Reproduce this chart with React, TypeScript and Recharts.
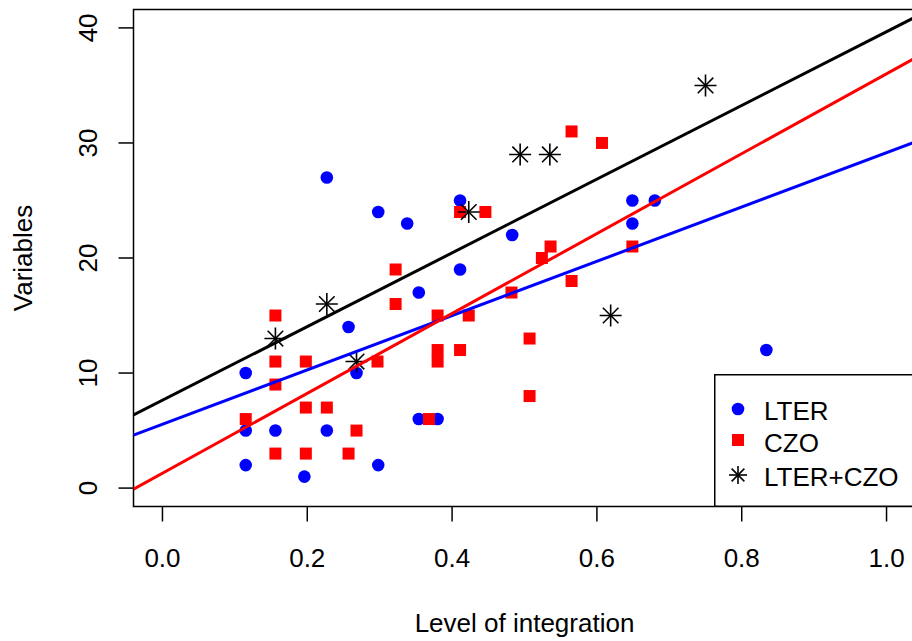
import { ScatterChart, Scatter, XAxis, YAxis, ReferenceArea, Label } from 'recharts'

// LTER sites (blue dots)
const lterX = [0.115, 0.115, 0.115, 0.156, 0.196, 0.227, 0.227, 0.257, 0.268, 0.298, 0.298, 0.338, 0.354, 0.354, 0.38, 0.411, 0.411, 0.483, 0.649, 0.649, 0.68, 0.834]
const lterY = [10, 5, 2, 5, 1, 27, 5, 14, 10, 24, 2, 23, 17, 6, 6, 25, 19, 22, 25, 23, 25, 12]

// CZO sites (red squares)
const czoX = [0.115, 0.156, 0.156, 0.156, 0.156, 0.198, 0.198, 0.198, 0.227, 0.257, 0.268, 0.297, 0.322, 0.322, 0.368, 0.38, 0.38, 0.38, 0.411, 0.411, 0.423, 0.446, 0.482, 0.507, 0.507, 0.524, 0.536, 0.565, 0.565, 0.607, 0.649]
const czoY = [6, 15, 11, 9, 3, 11, 7, 3, 7, 3, 5, 11, 19, 16, 6, 15, 12, 11, 24, 12, 15, 24, 17, 13, 8, 20, 21, 18, 31, 30, 21]

// LTER+CZO sites (stars)
const bothX = [0.156, 0.227, 0.268, 0.423, 0.494, 0.535, 0.619, 0.75]
const bothY = [13, 16, 11, 24, 29, 29, 15, 35]

// fitted lines, read at the two edges of the plot box
const fitX = [-0.04, 1.04]
const lterFit = [4.6, 30.1]
const czoFit = [-0.1, 37.4]
const bothFit = [6.35, 40.95]

const xTicks = [0, 0.2, 0.4, 0.6, 0.8, 1.0]
const yTicks = [0, 10, 20, 30, 40]
const xDomain = [-0.04, 1.04]
const yDomain = [-1.6, 41.6]

const BLUE = '#0000ff'
const RED = '#ff0000'
const FONT = '"Liberation Sans", Arial, sans-serif'
const FS = 26

const pts = (xs: number[], ys: number[]) => xs.map((x, i) => ({ x, y: ys[i] }))

const Dot = (p: any) => <circle cx={p.cx} cy={p.cy} r={6.3} fill={BLUE} />
const Square = (p: any) => <rect x={p.cx - 6} y={p.cy - 6} width={12} height={12} fill={RED} />

function Star({ cx, cy, r = 11 }: { cx: number; cy: number; r?: number }) {
  const d = r / Math.SQRT2
  return (
    <g stroke="#000" strokeWidth={1.6}>
      <line x1={cx - r} y1={cy} x2={cx + r} y2={cy} />
      <line x1={cx} y1={cy - r} x2={cx} y2={cy + r} />
      <line x1={cx - d} y1={cy - d} x2={cx + d} y2={cy + d} />
      <line x1={cx - d} y1={cy + d} x2={cx + d} y2={cy - d} />
    </g>
  )
}

const Nothing = () => <g />

const XTick = ({ x, y, payload }: any) => (
  <text x={x} y={y + 43} textAnchor="middle" fontSize={FS} fontFamily={FONT} fill="#000">
    {Number(payload.value).toFixed(1)}
  </text>
)

const YTick = ({ x, y, payload }: any) => (
  <text transform={`translate(${x - 20},${y}) rotate(-90)`} textAnchor="middle" fontSize={FS} fontFamily={FONT} fill="#000">
    {payload.value}
  </text>
)

function LegendBox() {
  const rows = [
    { name: 'LTER', y: 34 },
    { name: 'CZO', y: 66 },
    { name: 'LTER+CZO', y: 100 },
  ]
  return (
    <svg width={220} height={140} style={{ position: 'absolute', left: 714, top: 374 }}>
      <rect x={0.75} y={0.75} width={230} height={131.5} fill="#fff" stroke="#000" strokeWidth={1.5} />
      <circle cx={24} cy={35} r={6.3} fill={BLUE} />
      <rect x={18} y={60} width={12} height={12} fill={RED} />
      <Star cx={24} cy={101} r={9} />
      {rows.map((r) => (
        <text key={r.name} x={50} y={r.y + 12} fontSize={FS} fontFamily={FONT} fill="#000">
          {r.name}
        </text>
      ))}
    </svg>
  )
}

export default function App() {
  return (
    <div style={{ position: 'absolute', left: 0, top: 0, width: 912, height: 641, overflow: 'hidden', background: '#fff' }}>
      <ScatterChart width={930} height={641} margin={{ top: 9.5, right: 14.5, bottom: 4.5, left: 3.5 }}>
        <XAxis
          type="number"
          dataKey="x"
          domain={xDomain}
          allowDataOverflow
          ticks={xTicks}
          interval={0}
          height={130}
          axisLine={false}
          tickSize={15}
          tickLine={{ stroke: '#000', strokeWidth: 1.5 }}
          tick={<XTick />}
        >
          <Label
            content={({ viewBox }: any) => (
              <text x={viewBox.x + viewBox.width / 2} y={viewBox.y + 125.5} textAnchor="middle" fontSize={FS} fontFamily={FONT} fill="#000">
                Level of integration
              </text>
            )}
          />
        </XAxis>
        <YAxis
          type="number"
          dataKey="y"
          domain={yDomain}
          allowDataOverflow
          ticks={yTicks}
          interval={0}
          width={130}
          axisLine={false}
          tickSize={15}
          tickLine={{ stroke: '#000', strokeWidth: 1.5 }}
          tick={<YTick />}
        >
          <Label
            content={({ viewBox }: any) => (
              <text transform={`translate(31.5,${viewBox.y + viewBox.height / 2}) rotate(-90)`} textAnchor="middle" fontSize={FS} fontFamily={FONT} fill="#000">
                Variables
              </text>
            )}
          />
        </YAxis>
        <ReferenceArea x1={xDomain[0]} x2={xDomain[1]} y1={yDomain[0]} y2={yDomain[1]} fill="none" stroke="#000" strokeWidth={1.5} fillOpacity={0} />
        <Scatter data={pts(lterX, lterY)} shape={Dot} isAnimationActive={false} />
        <Scatter data={pts(czoX, czoY)} shape={Square} isAnimationActive={false} />
        <Scatter data={pts(bothX, bothY)} shape={(p: any) => <Star cx={p.cx} cy={p.cy} />} isAnimationActive={false} />
        <Scatter data={pts(fitX, lterFit)} shape={Nothing} line={{ stroke: BLUE, strokeWidth: 3 }} isAnimationActive={false} />
        <Scatter data={pts(fitX, czoFit)} shape={Nothing} line={{ stroke: RED, strokeWidth: 3 }} isAnimationActive={false} />
        <Scatter data={pts(fitX, bothFit)} shape={Nothing} line={{ stroke: '#000', strokeWidth: 3 }} isAnimationActive={false} />
      </ScatterChart>
      <LegendBox />
    </div>
  )
}
